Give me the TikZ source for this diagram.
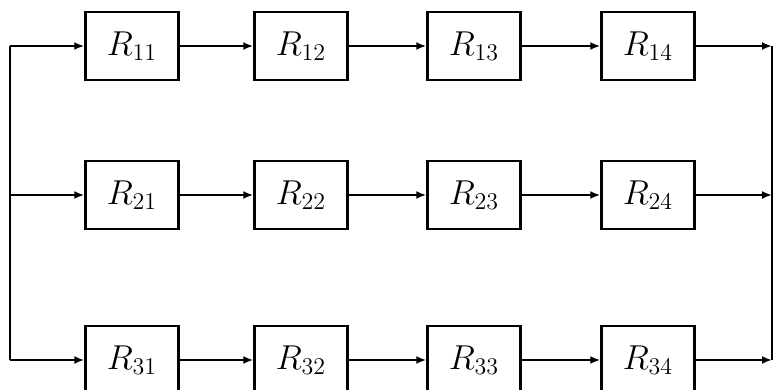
\documentclass[tikz,border=0pt]{standalone}
\usepackage{amsmath}
\usepackage{tikz}
\usetikzlibrary{arrows.meta}

\begin{document}
\begin{tikzpicture}[x=0.5pt,y=0.5pt,line width=1pt,
        >={Latex[length=5pt,width=4pt]},
        block/.style={draw,line width=1.2pt,minimum width=46.5pt,minimum height=34pt,font=\LARGE}]
        \useasboundingbox (0,0) rectangle (773,390);

        % Blocks and bus ends
        \foreach \r/\y in {1/344,2/195,3/30} {
            \foreach \c/\x in {1/132,2/301,3/474,4/648}
                \node[block] (R\r\c) at (\x,\y) {$R_{\r\c}$};
            \coordinate (L\r) at (10,\y);
            \coordinate (E\r) at (772,\y);
        }

        % Branches
        \foreach \r in {1,2,3} {
            \draw[->] (L\r) -- (R\r1);
            \draw[->] (R\r1) -- (R\r2);
            \draw[->] (R\r2) -- (R\r3);
            \draw[->] (R\r3) -- (R\r4);
            \draw[->] (R\r4) -- (E\r);
        }

        % Input and output buses
        \draw (L1) -- (L3);
        \draw (E1) -- (E3);
    \end{tikzpicture}
\end{document}
